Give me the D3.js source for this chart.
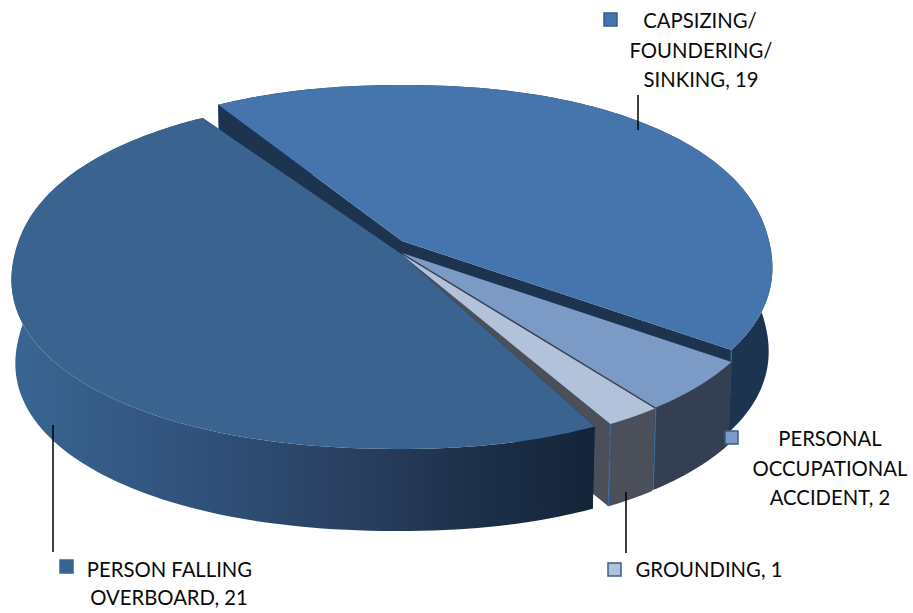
<!DOCTYPE html>
<html><head><meta charset="utf-8">
<style>html,body{margin:0;padding:0;background:#fff;overflow:hidden}svg{display:block}text{font-family:Lato,"Open Sans",sans-serif;font-size:20.3px;fill:#0a0a0a}</style>
<script src="https://cdn.jsdelivr.net/npm/d3@7/dist/d3.min.js"></script></head><body>
<script>
// Data, in clockwise drawing order starting at the upper-left cut
const categories = ["CAPSIZING/ FOUNDERING/ SINKING","PERSONAL OCCUPATIONAL ACCIDENT","GROUNDING","PERSON FALLING OVERBOARD"];
const values = [19,2,1,21];
const labelLines = [["CAPSIZING/","FOUNDERING/","SINKING, 19"],["PERSONAL","OCCUPATIONAL","ACCIDENT, 2"],["GROUNDING, 1"],["PERSON FALLING","OVERBOARD, 21"]];

// Style and layout
const topColors  = ["#4675ad","#7b9ac6","#b3c2db","#3a6390"];
const wallColors = ["#1c3450","#343f52","#4a4f5a","url(#personWall)"];
const cutColors  = ["#1c3450","#343f52","#4a4f5a","#14253a"];
const apex = [[402,241],[402,253],[401,254],[400,253]];
const kx = [367,367,367,385];
const rightScale = [1,1,1,0.94];
const startPad = [0.075,0.02,0.05,0.08];
const endPad = [-0.02,-0.05,-0.045,-0.06];
const shape = 0.93;
const ky = 173.7, persp = 0.1136, depth = 84, taper = 0.99;
const labelLayout = [
  {cx:[700,701,701],y:[28,58,87],key:[604,13],lead:[638,95,638,130]},
  {cx:[830,830,830],y:[446,476,505],key:[725,431],lead:null},
  {cx:[709],y:[577],key:[608,563],lead:[626,492,626,553]},
  {cx:[169.5,169],y:[577,605],key:[60,560],lead:[53,425,53,552]}
];

const W=913,H=613;
const svg=d3.select("body").append("svg").attr("width",W).attr("height",H);
const grad=svg.append("defs").append("linearGradient").attr("id","personWall")
  .attr("gradientUnits","userSpaceOnUse").attr("x1",15).attr("x2",590).attr("y1",0).attr("y2",0);
[[0,"#3a6592"],[0.35,"#2f4f78"],[0.6,"#293f60"],[0.8,"#1d3049"],[1,"#14253a"]].forEach(s=>grad.append("stop").attr("offset",s[0]).attr("stop-color",s[1]));

const pie=d3.pie().sort(null).startAngle(-36*Math.PI/180).endAngle(324*Math.PI/180)(values);
const line=d3.line();
const bulge=v=>Math.sign(v)*Math.pow(Math.abs(v),shape);
function pt(i,a,bottom){
  const sx=bulge(Math.sin(a)), sy=bulge(-Math.cos(a)), w=1-persp*sy;
  const f=bottom?taper:1;
  const k=kx[i]*(sx>0?rightScale[i]:1);
  return [apex[i][0]+f*k*sx/w, apex[i][1]+(bottom?depth:0)+f*ky*sy/w];
}
function rim(i,a0,a1,bottom){return d3.range(0,121).map(n=>pt(i,a0+(a1-a0)*n/120,bottom));}
const base=(i)=>[apex[i][0],apex[i][1]+depth];

function drawSlice(i){
  const a0=pie[i].startAngle+startPad[i], a1=pie[i].endAngle-endPad[i];
  const g=svg.append("g");
  const close=d=>line(d)+"Z";
  const topR=rim(i,a0,a1,false), botR=rim(i,a0,a1,true);
  g.append("path").attr("d",close([apex[i],topR[0],botR[0],base(i)])).attr("fill",cutColors[i]);
  g.append("path").attr("d",close([apex[i],topR[120],botR[120],base(i)])).attr("fill",cutColors[i]);
  g.append("path").attr("d",close(topR.concat(botR.slice().reverse()))).attr("fill",wallColors[i]);
  if(i<3){
    g.append("line").attr("x1",topR[120][0]).attr("y1",topR[120][1]).attr("x2",botR[120][0]).attr("y2",botR[120][1])
      .attr("stroke","#3a6aa0").attr("stroke-width",1.3).attr("stroke-dasharray","14 3");
  }
  g.append("path").attr("d",close([apex[i]].concat(topR))).attr("fill",topColors[i]);
}
[0,1,2,3].forEach(drawSlice);

labelLayout.forEach((l,i)=>{
  if(l.lead) svg.append("line").attr("x1",l.lead[0]).attr("y1",l.lead[1]).attr("x2",l.lead[2]).attr("y2",l.lead[3]).attr("stroke","#000").attr("stroke-width",1.5);
  svg.append("rect").attr("x",l.key[0]).attr("y",l.key[1]).attr("width",13).attr("height",13)
    .attr("fill",topColors[i]).attr("stroke",i==3?topColors[3]:"#385d8a").attr("stroke-width",1.5);
  labelLines[i].forEach((t,j)=>svg.append("text").attr("x",l.cx[j]).attr("y",l.y[j]).attr("text-anchor","middle").text(t));
});
</script></body></html>
